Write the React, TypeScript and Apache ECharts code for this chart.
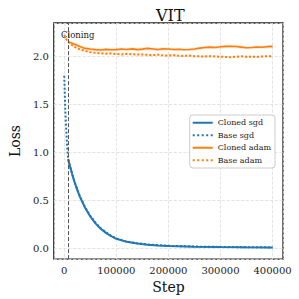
import React, { useEffect, useRef } from "react";
import * as echarts from "echarts";

const CLONE_STEP = 7500;

const SGD_CLONED_STEPS = [7500, 10000, 15000, 20000, 25000, 30000, 40000, 50000, 60000, 70000, 80000, 90000, 100000, 120000, 140000, 160000, 180000, 200000, 250000, 300000, 350000, 400000];
const SGD_CLONED = [0.93, 0.875, 0.775, 0.686, 0.607, 0.537, 0.421, 0.33, 0.258, 0.202, 0.159, 0.124, 0.097, 0.065, 0.048, 0.036, 0.028, 0.022, 0.015, 0.011, 0.008, 0.006];

const SGD_BASE_STEPS = [0, 1000, 2000, 3000, 4000, 5000, 6000, 7500, 10000, 15000, 20000, 25000, 30000, 40000, 50000, 60000, 70000, 80000, 90000, 100000, 120000, 140000, 160000, 180000, 200000, 250000, 300000, 350000, 400000];
const SGD_BASE = [1.8, 1.62, 1.46, 1.33, 1.22, 1.12, 1.03, 0.93, 0.88, 0.78, 0.69, 0.612, 0.543, 0.428, 0.337, 0.265, 0.208, 0.164, 0.129, 0.101, 0.068, 0.05, 0.038, 0.03, 0.024, 0.016, 0.012, 0.009, 0.007];

const ADAM_CLONED_STEPS = [7500, 10000, 20000, 30000, 40000, 50000, 60000, 70000, 80000, 90000, 100000, 110000, 120000, 130000, 140000, 150000, 160000, 170000, 180000, 190000, 200000, 210000, 220000, 230000, 240000, 250000, 260000, 270000, 280000, 290000, 300000, 310000, 320000, 330000, 340000, 350000, 360000, 370000, 380000, 390000, 400000];
const ADAM_CLONED = [2.158, 2.15, 2.128, 2.105, 2.085, 2.078, 2.072, 2.068, 2.075, 2.07, 2.072, 2.078, 2.074, 2.08, 2.072, 2.077, 2.085, 2.079, 2.073, 2.08, 2.078, 2.074, 2.076, 2.071, 2.073, 2.078, 2.088, 2.095, 2.098, 2.094, 2.102, 2.106, 2.108, 2.104, 2.098, 2.092, 2.095, 2.099, 2.097, 2.103, 2.106];
const ADAM_CLONED_STD = 0.016;

const ADAM_BASE_STEPS = [0, 5000, 10000, 20000, 30000, 40000, 50000, 60000, 70000, 80000, 90000, 100000, 110000, 120000, 130000, 140000, 150000, 160000, 170000, 180000, 190000, 200000, 210000, 220000, 230000, 240000, 250000, 260000, 270000, 280000, 290000, 300000, 310000, 320000, 330000, 340000, 350000, 360000, 370000, 380000, 390000, 400000];
const ADAM_BASE = [2.225, 2.17, 2.14, 2.1, 2.075, 2.058, 2.045, 2.038, 2.034, 2.03, 2.032, 2.026, 2.022, 2.028, 2.024, 2.02, 2.022, 2.018, 2.015, 2.019, 2.012, 2.01, 2.014, 2.009, 2.006, 2.01, 2.004, 2.002, 2.0, 2.004, 2.001, 1.998, 1.995, 1.993, 1.998, 2.002, 1.997, 1.999, 1.996, 2.001, 2.003, 2.004];
const ADAM_BASE_STD = 0.012;

const BLUE = "#1f77b4";
const ORANGE = "#ff7f0e";
const SERIF = "DejaVu Serif";

const SOLID_ICON = "path://M0,0H20V2H0Z";
const DOTTED_ICON =
  "path://M0,0H2V2H0Z M4.5,0H6.5V2H4.5Z M9,0H11V2H9Z M13.5,0H15.5V2H13.5Z M18,0H20V2H18Z";

function zip(xs: number[], ys: number[]) {
  return xs.map((x, i) => [x, ys[i]]);
}

function bandSeries(steps: number[], vals: number[], std: number, fill: string) {
  const data = steps.map((s, i) => [s, vals[i] - std, vals[i] + std]);
  return {
    type: "custom",
    silent: true,
    z: 1,
    data,
    encode: { x: 0, y: [1, 2] },
    renderItem: (params: any, api: any) => {
      if (params.dataIndex !== 0) return null;
      const upper = data.map((d) => api.coord([d[0], d[2]]));
      const lower = data.map((d) => api.coord([d[0], d[1]])).reverse();
      return {
        type: "polygon",
        shape: { points: upper.concat(lower) },
        style: { fill },
      };
    },
  };
}

export default function App() {
  const ref = useRef<HTMLDivElement>(null);
  useEffect(() => {
    const chart = echarts.init(ref.current!, null, { renderer: "svg" });
    const option: any = {
      animation: false,
      backgroundColor: "#fff",
      title: {
        text: "VIT",
        left: 151,
        top: 2,
        textStyle: { fontFamily: SERIF, fontSize: 16, fontWeight: "normal", color: "#111" },
      },
      grid: {
        left: 45,
        right: 16,
        top: 23,
        bottom: 39,
        show: true,
        borderColor: "#222",
        borderWidth: 1.3,
        backgroundColor: "transparent",
      },
      legend: {
        orient: "vertical",
        right: 24,
        top: 115,
        itemWidth: 20,
        itemHeight: 2,
        itemGap: 3,
        symbolKeepAspect: false,
        padding: [3, 4, 3, 3],
        borderColor: "#ccc",
        borderWidth: 1,
        borderRadius: 3,
        backgroundColor: "rgba(255,255,255,0.85)",
        textStyle: { fontFamily: SERIF, fontSize: 8, color: "#222", lineHeight: 9.5 },
        data: [
          { name: "Cloned sgd", icon: SOLID_ICON },
          { name: "Base sgd", icon: DOTTED_ICON },
          { name: "Cloned adam", icon: SOLID_ICON },
          { name: "Base adam", icon: DOTTED_ICON },
        ],
      },
      xAxis: {
        type: "value",
        min: -20000,
        max: 420000,
        splitNumber: 5,
        name: "Step",
        nameLocation: "middle",
        nameGap: 19,
        nameTextStyle: { fontFamily: SERIF, fontSize: 14, color: "#111" },
        axisLine: { show: false },
        axisTick: { show: false },
        axisLabel: {
          showMinLabel: false,
          showMaxLabel: false,
          fontFamily: SERIF,
          fontSize: 10,
          color: "#222",
          margin: 6,
          formatter: (v: number) => String(Math.round(v)),
        },
        splitLine: { show: true, lineStyle: { type: "dashed", color: "#ddd", width: 0.8 } },
      },
      yAxis: {
        type: "value",
        min: -0.115,
        max: 2.35,
        splitNumber: 5,
        name: "Loss",
        nameLocation: "middle",
        nameGap: 31,
        nameTextStyle: { fontFamily: SERIF, fontSize: 14, color: "#111" },
        axisLine: { show: false },
        axisTick: { show: false },
        axisLabel: {
          showMinLabel: false,
          showMaxLabel: false,
          fontFamily: SERIF,
          fontSize: 10,
          color: "#222",
          margin: 5,
          formatter: (v: number) => v.toFixed(1),
        },
        splitLine: { show: true, lineStyle: { type: "dashed", color: "#ddd", width: 0.8 } },
      },
      series: [
        bandSeries(ADAM_BASE_STEPS, ADAM_BASE, ADAM_BASE_STD, "rgba(255,127,14,0.12)"),
        bandSeries(ADAM_CLONED_STEPS, ADAM_CLONED, ADAM_CLONED_STD, "rgba(255,127,14,0.18)"),
        {
          name: "Base sgd",
          type: "line",
          symbol: "none",
          z: 3,
          data: zip(SGD_BASE_STEPS, SGD_BASE),
          lineStyle: { color: BLUE, width: 2, type: [2, 2] },
          itemStyle: { color: BLUE },
        },
        {
          name: "Cloned sgd",
          type: "line",
          symbol: "none",
          z: 4,
          data: zip(SGD_CLONED_STEPS, SGD_CLONED),
          lineStyle: { color: BLUE, width: 2 },
          itemStyle: { color: BLUE },
          markLine: {
            silent: true,
            symbol: "none",
            label: { show: false },
            lineStyle: { color: "#555", type: [4, 2], width: 1 },
            data: [{ xAxis: CLONE_STEP }],
          },
        },
        {
          name: "Base adam",
          type: "line",
          symbol: "none",
          z: 3,
          data: zip(ADAM_BASE_STEPS, ADAM_BASE),
          lineStyle: { color: ORANGE, width: 2, type: [2, 2] },
          itemStyle: { color: ORANGE },
        },
        {
          name: "Cloned adam",
          type: "line",
          symbol: "none",
          z: 4,
          data: zip(ADAM_CLONED_STEPS, ADAM_CLONED),
          lineStyle: { color: ORANGE, width: 1.6 },
          itemStyle: { color: ORANGE },
        },
      ],
      graphic: [
        {
          type: "text",
          left: 61,
          top: 30,
          z: 10,
          style: { text: "Cloning", fontFamily: SERIF, fontSize: 8.5, fill: "#222" },
        },
      ],
    };
    chart.setOption(option);
    return () => chart.dispose();
  }, []);
  return <div ref={ref} style={{ position: "fixed", left: 0, top: 0, width: 299, height: 299 }} />;
}
